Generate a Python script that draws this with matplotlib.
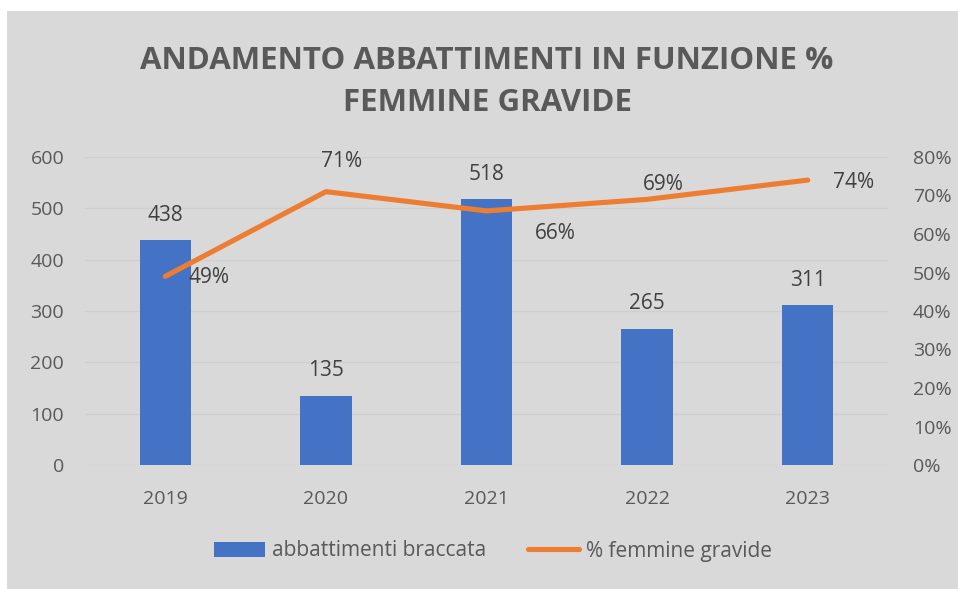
import matplotlib.pyplot as plt
from matplotlib.patches import Rectangle
from matplotlib.ticker import FuncFormatter

# dati
anni = ["2019", "2020", "2021", "2022", "2023"]
abbattimenti = [438, 135, 518, 265, 311]
femmine_gravide = [49, 71, 66, 69, 74]

plt.rcParams['font.family'] = ['Open Sans', 'DejaVu Sans']
grigio = '#595959'
sfondo = '#d9d9d9'

fig = plt.figure(figsize=(9.58, 5.89), dpi=100)
fig.patch.set_facecolor('white')
fig.patches.append(Rectangle((7 / 958, 0), 1 - 7 / 958, 1 - 11 / 589,
                             transform=fig.transFigure, facecolor=sfondo,
                             edgecolor='none', zorder=-10))

ax = fig.add_axes([85 / 958, 1 - 465 / 589, (888 - 85) / 958, (465 - 157) / 589])
ax.set_facecolor('none')
x = range(len(anni))

barre = ax.bar(x, abbattimenti, width=0.32, color='#4472C4', zorder=2,
               label='abbattimenti braccata')
for xi, v in zip(x, abbattimenti):
    ax.annotate(str(v), (xi, v), xytext=(0, 18), textcoords='offset points',
                ha='center', va='center', fontsize=15, color='#404040')

ax.set_xlim(-0.5, 4.5)
ax.set_ylim(0, 600)
ax.set_yticks(range(0, 601, 100))
ax.set_xticks(list(x))
ax.set_xticklabels(anni)
ax.grid(axis='y', color='#cfcfcf', linewidth=1, zorder=0)
for s in ax.spines.values():
    s.set_visible(False)
ax.tick_params(length=0, labelsize=14, labelcolor=grigio)
ax.tick_params(axis='y', pad=15)
ax.tick_params(axis='x', pad=18)

ax2 = ax.twinx()
ax2.set_ylim(0, 80)
ax2.set_yticks(range(0, 81, 10))
ax2.yaxis.set_major_formatter(FuncFormatter(lambda v, p: f"{int(v)}%"))
linea, = ax2.plot(list(x), femmine_gravide, color='#ED7D31', linewidth=3.7,
                  solid_capstyle='round', zorder=3, label='% femmine gravide')
for s in ax2.spines.values():
    s.set_visible(False)
ax2.tick_params(length=0, labelsize=14, labelcolor=grigio, pad=18)

# posizioni etichette della linea (punti tipografici)
offset = [(16.5, -1), (11, 21.5), (35, -16.5), (12, 11), (18, -2)]
allinea = ['left', 'center', 'left', 'center', 'left']
for xi, v, (dx, dy), ha in zip(x, femmine_gravide, offset, allinea):
    ax2.annotate(f"{v}%", (xi, v), xytext=(dx, dy), textcoords='offset points',
                 ha=ha, va='center', fontsize=15, color='#404040')

fig.text(487 / 958, 1 - 82 / 589, "ANDAMENTO ABBATTIMENTI IN FUNZIONE %\nFEMMINE GRAVIDE",
         ha='center', va='center', fontsize=22.5, fontweight='bold', color=grigio,
         linespacing=1.5)

fig.legend([barre, linea], ['abbattimenti braccata', '% femmine gravide'],
           loc='center', bbox_to_anchor=(493 / 958, 1 - 551 / 589), ncol=2,
           frameon=False, fontsize=15, labelcolor=grigio, handlelength=2.45,
           handletextpad=0.33, columnspacing=2.0)

fig.savefig('out.png', dpi=100, facecolor=fig.get_facecolor())
